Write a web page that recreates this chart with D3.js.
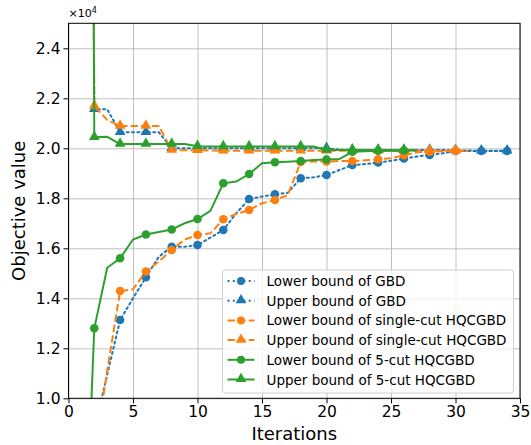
<!doctype html>
<html>
<head>
<meta charset="utf-8">
<script src="https://d3js.org/d3.v7.min.js"></script>
<style>
  body { margin: 0; background: #fff; }
  text { font-family: "DejaVu Sans", sans-serif; fill: #000; }
</style>
</head>
<body>
<svg id="chart" width="531" height="445"></svg>
<script>
// values in units of 1e4, iterations start at 1
var gbdLower = [0.0, 0.875, 1.094, 1.313, 1.40, 1.484, 1.566, 1.606, 1.606, 1.613, 1.643, 1.673, 1.74, 1.797, 1.807, 1.816, 1.822, 1.88, 1.884, 1.893, 1.913, 1.933, 1.937, 1.943, 1.95, 1.959, 1.967, 1.973, 1.98, 1.989, 1.989, 1.989, 1.989, 1.989];
var gbdUpper = [12, 2.156, 2.156, 2.064, 2.064, 2.064, 2.064, 2.0, 2.0, 2.0, 2.0, 2.0, 2.0, 2.0, 2.0, 2.0, 2.0, 2.0, 2.0, 2.0, 1.995, 1.993, 1.993, 1.993, 1.993, 1.993, 1.993, 1.993, 1.993, 1.992, 1.991, 1.99, 1.99, 1.99];
var singleLower = [0.0, 0.77, 1.11, 1.429, 1.436, 1.507, 1.547, 1.593, 1.635, 1.653, 1.66, 1.716, 1.737, 1.753, 1.78, 1.793, 1.813, 1.945, 1.947, 1.947, 1.949, 1.949, 1.952, 1.956, 1.96, 1.972, 1.984, 1.986, 1.988, 1.99, 1.99];
var singleUpper = [12, 2.169, 2.113, 2.089, 2.089, 2.089, 2.089, 1.993, 1.992, 1.992, 1.991, 1.99, 1.99, 1.99, 1.99, 1.99, 1.99, 1.99, 1.99, 1.99, 1.99, 1.99, 1.99, 1.99, 1.99, 1.99, 1.99, 1.99, 1.99, 1.99, 1.99];
var fiveLower = [0.0, 1.28, 1.522, 1.56, 1.635, 1.655, 1.665, 1.675, 1.70, 1.717, 1.75, 1.86, 1.867, 1.897, 1.94, 1.944, 1.946, 1.949, 1.953, 1.955, 1.957, 1.986, 1.988, 1.99, 1.99, 1.991, 1.992];
var fiveUpper = [12, 2.044, 2.046, 2.017, 2.017, 2.017, 2.017, 2.017, 2.017, 2.008, 2.007, 2.007, 2.007, 2.007, 2.007, 2.007, 2.007, 2.007, 2.007, 1.993, 1.993, 1.993, 1.993, 1.992, 1.992, 1.992, 1.992];

var xTicks = [0, 5, 10, 15, 20, 25, 30, 35];
var yTicks = [1.0, 1.2, 1.4, 1.6, 1.8, 2.0, 2.2, 2.4];

var series = [
  { name: "Lower bound of GBD", values: gbdLower, color: "#1f77b4", dash: "2,3.3", marker: "circle" },
  { name: "Upper bound of GBD", values: gbdUpper, color: "#1f77b4", dash: "2,3.3", marker: "triangle" },
  { name: "Lower bound of single-cut HQCGBD", values: singleLower, color: "#ff7f0e", dash: "7.4,3.2", marker: "circle" },
  { name: "Upper bound of single-cut HQCGBD", values: singleUpper, color: "#ff7f0e", dash: "7.4,3.2", marker: "triangle" },
  { name: "Lower bound of 5-cut HQCGBD", values: fiveLower, color: "#2ca02c", dash: null, marker: "circle" },
  { name: "Upper bound of 5-cut HQCGBD", values: fiveUpper, color: "#2ca02c", dash: null, marker: "triangle" }
];

var pL = 68.5, pR = 520, pT = 23.3, pB = 398.3;
var svg = d3.select("#chart");

var x = d3.scaleLinear().domain([0, 35]).range([pL, pR]);
var y = d3.scaleLinear().domain([1.0, 2.5]).range([pB, pT]);

svg.append("defs").append("clipPath").attr("id", "clip")
  .append("rect").attr("x", pL).attr("y", pT).attr("width", pR - pL).attr("height", pB - pT);

// grid
svg.append("g").attr("transform", "translate(0," + pB + ")")
  .call(d3.axisBottom(x).tickValues(xTicks).tickSize(-(pB - pT)).tickFormat(""))
  .call(g => g.select(".domain").remove())
  .call(g => g.selectAll("line").attr("stroke", "#b0b0b0").attr("stroke-width", 0.8));
svg.append("g").attr("transform", "translate(" + pL + ",0)")
  .call(d3.axisLeft(y).tickValues(yTicks).tickSize(-(pR - pL)).tickFormat(""))
  .call(g => g.select(".domain").remove())
  .call(g => g.selectAll("line").attr("stroke", "#b0b0b0").attr("stroke-width", 0.8));

var line = d3.line().x((d, i) => x(i + 1)).y(d => y(d));
var triangle = d3.symbol().type(d3.symbolTriangle).size(50);

var plot = svg.append("g").attr("clip-path", "url(#clip)");
series.forEach(function(s) {
  plot.append("path").datum(s.values)
    .attr("d", line)
    .attr("fill", "none")
    .attr("stroke", s.color)
    .attr("stroke-width", 2)
    .attr("stroke-dasharray", s.dash)
    .attr("stroke-linecap", s.dash && s.dash.startsWith("2,") ? "round" : "butt");
  var pts = s.values.map((v, i) => ({ it: i + 1, v: v })).filter(d => d.it % 2 === 0);
  if (s.marker === "circle") {
    plot.selectAll(null).data(pts).enter().append("circle")
      .attr("cx", d => x(d.it)).attr("cy", d => y(d.v)).attr("r", 4.3)
      .attr("fill", s.color);
  } else {
    plot.selectAll(null).data(pts).enter().append("path")
      .attr("d", triangle)
      .attr("transform", d => "translate(" + x(d.it) + "," + (y(d.v) - 0.5) + ")")
      .attr("fill", s.color);
  }
});

// axes
var xAxis = svg.append("g").attr("transform", "translate(0," + pB + ")")
  .call(d3.axisBottom(x).tickValues(xTicks).tickSize(5).tickPadding(3).tickFormat(d3.format("d")));
var yAxis = svg.append("g").attr("transform", "translate(" + pL + ",0)")
  .call(d3.axisLeft(y).tickValues(yTicks).tickSize(5).tickPadding(3).tickFormat(d3.format(".1f")));
[xAxis, yAxis].forEach(function(a) {
  a.selectAll("text").style("font-size", "15.5px").attr("font-family", "DejaVu Sans");
  a.select(".domain").remove();
  a.selectAll("line").attr("stroke", "#000").attr("stroke-width", 1);
});
// frame
svg.append("rect").attr("x", pL).attr("y", pT).attr("width", pR - pL).attr("height", pB - pT)
  .attr("fill", "none").attr("stroke", "#000").attr("stroke-width", 1);

// exponent
var ex = svg.append("text").attr("x", pL).attr("y", 17).style("font-size", "11px");
ex.append("tspan").text("\u00d710");
ex.append("tspan").attr("dy", -4).style("font-size", "8px").text("4");

svg.append("text").attr("x", (pL + pR) / 2).attr("y", 440).attr("text-anchor", "middle")
  .style("font-size", "18px").text("Iterations");
svg.append("text").attr("transform", "translate(25," + ((pT + pB) / 2) + ") rotate(-90)")
  .attr("text-anchor", "middle").style("font-size", "18px").text("Objective value");

// legend
var lg = svg.append("g").attr("transform", "translate(222.5,270)");
lg.append("rect").attr("width", 291).attr("height", 123).attr("rx", 3)
  .attr("fill", "#fff").attr("fill-opacity", 0.8).attr("stroke", "#d0d0d0");
series.forEach(function(s, i) {
  var row = lg.append("g").attr("transform", "translate(0," + (11 + i * 19.7) + ")");
  row.append("line").attr("x1", 5).attr("x2", 32).attr("stroke", s.color).attr("stroke-width", 2)
    .attr("stroke-dasharray", s.dash);
  if (s.marker === "circle") {
    row.append("circle").attr("cx", 18.5).attr("r", 4).attr("fill", s.color);
  } else {
    row.append("path").attr("d", triangle).attr("transform", "translate(18.5,-0.5)").attr("fill", s.color);
  }
  row.append("text").attr("x", 44).attr("y", 5).style("font-size", "13.5px").text(s.name);
});
</script>
</body>
</html>
